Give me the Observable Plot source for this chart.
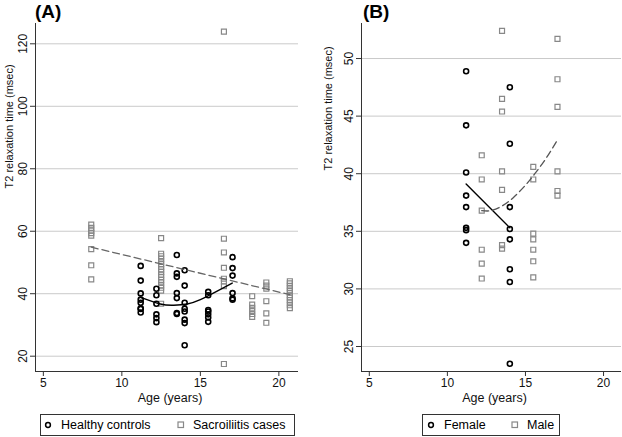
<!DOCTYPE html>
<html>
<head>
<meta charset="utf-8">
<script src="https://cdn.jsdelivr.net/npm/d3@7"></script>
<script src="https://cdn.jsdelivr.net/npm/@observablehq/plot@0.6"></script>
<style>
  body { margin: 0; background: #fff; font-family: "Liberation Sans", Arial, sans-serif; }
  #wrap { position: relative; width: 622px; height: 437px; overflow: hidden; }
  .panel { position: absolute; top: 0; }
  .tag { position: absolute; top: 1px; font-weight: bold; font-size: 19px; }
  .legend { position: absolute; top: 414px; height: 22px; border: 1px solid #333; box-sizing: border-box; font-size: 12.5px; }
  .legend .it { position: absolute; top: 3px; white-space: nowrap; }
  .legend svg { position: absolute; top: 6px; }
</style>
</head>
<body>
<div id="wrap">
  <div class="panel" id="pa" style="left:0"></div>
  <div class="panel" id="pb" style="left:310px"></div>
  <div class="tag" style="left:35px">(A)</div>
  <div class="tag" style="left:363px">(B)</div>
  <div class="legend" style="left:40px;width:255px">
    <svg width="8" height="8" style="left:2.5px"><circle cx="4" cy="4" r="2.4" fill="none" stroke="#000" stroke-width="1.5"/></svg>
    <span class="it" style="left:20px">Healthy controls</span>
    <svg width="8" height="8" style="left:136px"><rect x="1" y="1" width="5.5" height="5.5" fill="none" stroke="#888" stroke-width="1.2"/></svg>
    <span class="it" style="left:152px">Sacroiliitis cases</span>
  </div>
  <div class="legend" style="left:422px;width:138px">
    <svg width="8" height="8" style="left:4px"><circle cx="4" cy="4" r="2.4" fill="none" stroke="#000" stroke-width="1.5"/></svg>
    <span class="it" style="left:21px">Female</span>
    <svg width="8" height="8" style="left:88px"><rect x="1" y="1" width="5.5" height="5.5" fill="none" stroke="#888" stroke-width="1.2"/></svg>
    <span class="it" style="left:104px">Male</span>
  </div>
</div>
<script>
// healthy controls split by sex (panel B); together they are the controls of panel A
const femaleAge = [11.2, 11.2, 11.2, 11.2, 11.2, 11.2, 11.2, 11.2,
                   14.0, 14.0, 14.0, 14.0, 14.0, 14.0, 14.0, 14.0];
const femaleT2 = [48.9, 44.2, 40.1, 38.1, 37.1, 35.3, 35.1, 34.0,
                  47.5, 42.6, 37.1, 35.2, 34.3, 31.7, 30.6, 23.5];
const maleAge = [12.2, 12.2, 12.2, 12.2, 12.2, 12.2,
                 13.5, 13.5, 13.5, 13.5, 13.5, 13.5, 13.5,
                 15.5, 15.5, 15.5, 15.5, 15.5, 15.5, 15.5,
                 17.05, 17.05, 17.05, 17.05, 17.05, 17.05];
const maleT2 = [41.6, 39.5, 36.8, 33.4, 32.2, 30.9,
                52.4, 46.5, 45.4, 40.2, 38.6, 33.8, 33.5,
                40.6, 39.5, 34.8, 34.3, 33.4, 32.4, 31.0,
                51.7, 48.2, 45.8, 40.2, 38.5, 38.1];

// sacroiliitis cases (panel A)
const caseAge = [8.05, 8.05, 8.05, 8.05, 8.05, 8.05, 8.05, 8.05,
                 12.5, 12.5, 12.5, 12.5, 12.5, 12.5, 12.5, 12.5, 12.5, 12.5, 12.5, 12.5, 12.5, 12.5, 12.5, 12.5, 12.5,
                 16.5, 16.5, 16.5, 16.5, 16.5, 16.5, 16.5, 16.5,
                 18.3, 18.3, 18.3, 18.3, 18.3, 18.3,
                 19.2, 19.2, 19.2, 19.2, 19.2, 19.2,
                 20.7, 20.7, 20.7, 20.7, 20.7, 20.7, 20.7, 20.7, 20.7, 20.7, 20.7, 20.7];
const caseT2 = [62.1, 61.1, 60.2, 59.4, 58.6, 54.3, 49.1, 44.6,
                57.8, 52.8, 52.0, 51.2, 50.3, 49.5, 48.6, 47.8, 47.0, 46.1, 45.3, 44.4, 43.6, 42.7, 41.9, 41.0, 36.8,
                123.9, 57.6, 53.2, 48.3, 44.8, 43.9, 42.4, 17.5,
                39.2, 36.5, 35.5, 34.5, 33.5, 32.6,
                43.6, 42.6, 41.6, 37.6, 33.7, 30.7,
                44.0, 43.3, 42.5, 41.8, 41.0, 40.3, 39.5, 38.8, 38.0, 37.2, 36.3, 35.4];

// fitted curves as drawn
const fitCtrlAge = [11.2, 12.45, 13.3, 14.16, 15.0, 16.07, 17.03];
const fitCtrlT2 = [38.8, 36.7, 36.3, 36.7, 38.1, 40.8, 43.4];
const fitCaseAge = [8.05, 20.7];
const fitCaseT2 = [54.9, 39.7];
const fitFemAge = [11.2, 14.0];
const fitFemT2 = [39.1, 35.3];
const fitMaleAge = [12.2, 12.8, 13.5, 14.2, 15.0, 15.6, 16.3, 17.08];
const fitMaleT2 = [36.8, 36.8, 37.2, 37.9, 39.0, 40.0, 41.3, 43.0];

const xTicks = [5, 10, 15, 20];
const yTicksA = [20, 40, 60, 80, 100, 120];
const yTicksB = [25, 30, 35, 40, 45, 50];

const pts = (xs, ys) => xs.map((x, i) => ({x, y: ys[i]}));
const controls = pts(femaleAge.concat(maleAge), femaleT2.concat(maleT2));

function panel({width, marginLeft, marginRight, xDomain, yDomain, yTicks, titleDx, titleDy, marks}) {
  return Plot.plot({
    width, height: 410,
    marginLeft, marginRight, marginTop: 23, marginBottom: 39,
    x: {domain: xDomain},
    y: {domain: yDomain},
    style: {fontSize: "12px", fontFamily: "'Liberation Sans', Arial, sans-serif", color: "#111", background: "white"},
    marks: [
      Plot.gridY(yTicks, {stroke: "#cacaca", strokeOpacity: 1, strokeWidth: 1}),
      Plot.ruleX([xDomain[0]], {stroke: "#333"}),
      Plot.ruleY([yDomain[0]], {stroke: "#333"}),
      Plot.axisX(xTicks, {tickSize: 5, tickPadding: 1.5, label: null, stroke: "#333"}),
      Plot.axisY(yTicks, {tickSize: 5, tickRotate: -90, label: null, stroke: "#333"}),
      Plot.text(["Age (years)"], {text: d => d, frameAnchor: "bottom", dy: 30, dx: 3, fontSize: 12.5}),
      Plot.text(["T2 relaxation time (msec)"], {text: d => d, frameAnchor: "left", rotate: -90, dx: titleDx, dy: titleDy, fontSize: 11}),
      ...marks
    ]
  });
}

const circles = data => Plot.dot(data, {x: "x", y: "y", r: 2.5, stroke: "#000", strokeWidth: 1.6, fill: "none"});
const squares = data => Plot.dot(data, {x: "x", y: "y", r: 2.8, symbol: "square", stroke: "#888", strokeWidth: 1.2, fill: "none"});

document.getElementById("pa").append(panel({
  width: 310, marginLeft: 35, marginRight: 12,
  xDomain: [4.5, 21.25], yDomain: [15.1, 126.5], yTicks: yTicksA,
  titleDx: -26, titleDy: -9,
  marks: [
    squares(pts(caseAge, caseT2)),
    circles(controls),
    Plot.line(pts(fitCaseAge, fitCaseT2), {x: "x", y: "y", stroke: "#666", strokeWidth: 1.3, strokeDasharray: "7,4"}),
    Plot.line(pts(fitCtrlAge, fitCtrlT2), {x: "x", y: "y", stroke: "#000", strokeWidth: 1.4, curve: "natural"})
  ]
}));

document.getElementById("pb").append(panel({
  width: 312, marginLeft: 51, marginRight: 1,
  xDomain: [4.5, 21.15], yDomain: [22.83, 53.04], yTicks: yTicksB,
  titleDx: -33, titleDy: -27,
  marks: [
    squares(pts(maleAge, maleT2)),
    circles(pts(femaleAge, femaleT2)),
    Plot.line(pts(fitFemAge, fitFemT2), {x: "x", y: "y", stroke: "#000", strokeWidth: 1.4}),
    Plot.line(pts(fitMaleAge, fitMaleT2), {x: "x", y: "y", stroke: "#555", strokeWidth: 1.3, strokeDasharray: "7,4", curve: "natural"})
  ]
}));
</script>
</body>
</html>
